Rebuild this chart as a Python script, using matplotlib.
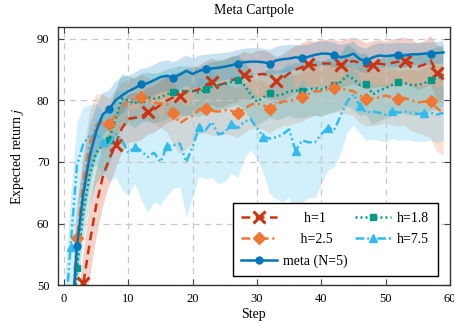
import matplotlib
matplotlib.use("Agg")
import matplotlib.pyplot as plt
import numpy as np

plt.rcParams['font.family'] = ['Liberation Serif', 'DejaVu Serif']
plt.rcParams['mathtext.fontset'] = 'stix'

steps = list(range(0, 60))

meta = [38, 40, 56.3, 65, 71, 75, 77.7, 78.6, 80, 80.8, 81.5, 82, 82.6, 82.8, 83.3, 83.8, 84, 83.7, 84.2, 84.8,
        84.3, 84.8, 85.1, 85.2, 85.3, 85.5, 85.7, 86, 86.2, 86.3, 86.3, 86.2, 86, 86.5, 86.7, 86.8, 87, 86.9, 87.1, 87.4,
        87.6, 87.6, 87.4, 87.0, 87.2, 87.6, 86.7, 86.4, 87, 87.3, 87.2, 87.3, 87.4, 87.3, 87.5, 87.5, 87.6, 87.6, 87.7, 87.8]
meta_std = [6, 6, 6, 5, 5, 4, 3.5, 3, 3, 3, 2.5, 2.5, 2.5, 2.5, 2.5, 2.5, 2.5, 2.5, 2.5, 2.5,
            2.5, 2.5, 2.3, 2.3, 2.3, 2.2, 2.2, 2.2, 2.2, 2.2, 2.2, 2.2, 2.2, 2.2, 2.2, 2.2, 2.0, 2.0, 2.0, 2.0,
            2.0, 2.0, 2.0, 2.0, 2.0, 2.0, 2.0, 2.0, 2.0, 2.0, 2.0, 2.0, 2.0, 2.0, 1.8, 1.8, 1.8, 1.8, 1.8, 1.8]

h1 = [30, 35, 40, 50.3, 57, 63, 67.5, 70.5, 72.7, 75.5, 77, 77.2, 77.3, 78.2, 78.5, 79.3, 80, 80.5, 80.8, 81.3,
      81.5, 81.8, 82.5, 83, 82.5, 82.8, 83.3, 83.5, 84.1, 83.8, 84.2, 84.3, 84.0, 83.2, 83.6, 84.4, 85, 85.4, 86, 85.7,
      86, 86, 86, 85.8, 86.2, 86.4, 86.1, 85.5, 85.8, 86.0, 85.8, 86.1, 86.3, 86.4, 86.1, 85.5, 85.8, 86.5, 84.5, 84.0]
h1_std = [5, 5, 5, 5, 6, 5.5, 5, 4.5, 4, 4, 4, 4, 3.8, 3.8, 3.8, 3.8, 3.8, 3.8, 3.8, 3.8,
          3.8, 3.8, 3.8, 3.8, 3.8, 3.8, 3.8, 3.8, 3.8, 3.8, 3.8, 3.8, 3.8, 3.8, 3.8, 3.8, 3.8, 3.8, 3.8, 3.8,
          3.8, 3.8, 3.8, 3.8, 3.8, 3.8, 3.8, 3.8, 3.8, 3.8, 3.8, 3.8, 3.8, 3.8, 3.8, 3.8, 3.8, 4.0, 4.5, 4.5]

h18 = [30, 40, 52.8, 62, 68, 71.5, 72.8, 73.6, 77, 80.3, 80, 79.5, 80.3, 80.5, 80.3, 80.5, 81, 81.3, 81.6, 81.5,
       81.5, 81.3, 81.8, 82.2, 82.5, 82.6, 83, 83.3, 82.5, 81, 79.8, 80.5, 81.2, 80.8, 81, 81.5, 81.6, 81.6, 81.8, 82,
       81.8, 82.2, 82.5, 83, 84, 83.5, 82.5, 82.6, 81, 81.6, 82, 82.5, 83, 82.8, 82.5, 82.5, 82.8, 83.3, 83.6, 84]
h18_std = [5, 5, 5, 5, 5, 5, 5, 4.5, 4.5, 4, 4, 4, 4, 4, 4, 4, 4, 4, 4, 4,
           4, 4, 4, 4, 4, 4, 4, 4, 4, 4, 4, 4, 4, 4, 4, 4, 4.5, 4.5, 4.5, 4.5,
           4.5, 4.5, 4.5, 4.5, 5, 5, 5, 5, 5, 5, 5, 5, 5, 5, 5, 5, 5, 5, 5, 5]

h25 = [30, 40, 57.6, 67, 73, 76, 76.5, 76.2, 77.5, 79, 79.8, 80.3, 80.6, 80.2, 79.6, 79.5, 79.4, 77.9, 76.3, 77,
       77.5, 78.5, 78.6, 78.3, 78.2, 78.4, 78.3, 77.9, 78.6, 79.3, 79.5, 79.2, 78.6, 79.3, 79.8, 79.9, 80.2, 80.5, 81, 81.5,
       81.5, 81.8, 82.1, 82, 81.7, 81.5, 80.8, 80.2, 80.3, 80.5, 80.8, 80.5, 80.3, 80.4, 80.0, 79.7, 79.8, 79.9, 78.7, 78]
h25_std = [4, 4, 4, 4.5, 5, 5, 4.5, 4, 4, 3.8, 3.5, 3.5, 3.5, 3.5, 3.5, 4, 4.5, 5, 5, 5,
           4.5, 4, 4, 4, 4, 4, 4, 4, 4, 4, 4, 4, 4, 4, 4, 4, 4, 4, 4, 4,
           4, 4, 4, 4, 4, 4, 4.5, 4.5, 4.5, 4.5, 4.5, 4.5, 4.5, 4.5, 5, 5, 5.5, 6, 7, 7]

h75 = [42, 56.2, 69.5, 73, 74.3, 74.5, 73.2, 72.8, 74.6, 73.5, 71.5, 72.5, 71.8, 70.8, 71.5, 70, 72.6, 72.7, 73, 70,
       72.5, 75.7, 75.2, 76.5, 74.5, 74.8, 76.2, 75.5, 76.5, 77, 75.5, 74.1, 73.8, 74, 74.5, 75.3, 71.8, 73.5, 73.2, 73.2,
       74.5, 75.6, 75.2, 77.5, 79.8, 81, 79.1, 78, 78.2, 78, 77.7, 78.3, 78, 78.2, 78, 77.8, 77.9, 78, 77.7, 78]
h75_std = [8, 8, 7, 6, 5, 5, 5, 6, 7, 8, 7, 6, 8, 9, 8, 7, 8, 7, 7, 9,
           8, 8, 8, 9, 8, 8, 8, 8, 6, 5, 5, 6, 9, 10, 11, 11, 10, 10, 9, 9,
           8, 7, 6, 6, 5, 5, 4.5, 4.5, 4.5, 4.5, 4.5, 4.5, 4.5, 4.5, 4.5, 4.5, 4.5, 4.5, 4.5, 4.5]

x_ticks = [0, 10, 20, 30, 40, 50, 60]
y_ticks = [50, 60, 70, 80, 90]

fig = plt.figure(figsize=(4.54, 3.24), dpi=100)
ax = fig.add_axes([0.127, 0.120, 0.864, 0.798])

series = [
    ("h=1", h1, h1_std, "#CC3311", dict(ls=(0, (3.5, 2.2)), marker="x", ms=8, mew=2.2, markevery=(3, 5))),
    ("h=1.8", h18, h18_std, "#009988", dict(ls=(0, (0.8, 1.2)), marker="s", ms=5, mew=1, markevery=(2, 5))),
    ("h=2.5", h25, h25_std, "#EE7733", dict(ls=(0, (3.5, 1.5, 0.8, 1.5)), marker="D", ms=6, mew=1, markevery=(2, 5))),
    ("h=7.5", h75, h75_std, "#33BBEE", dict(ls=(0, (3.5, 1.2, 0.8, 1.2, 0.8, 1.2)), marker="^", ms=5.5, mew=1, markevery=(1, 5))),
    ("meta (N=5)", meta, meta_std, "#0077BB", dict(ls="-", marker="o", ms=5, mew=1, markevery=(2, 5))),
]

handles = {}
for label, vals, sd, color, st in series:
    v = np.array(vals)
    s = np.array(sd)
    ax.fill_between(steps, v - s, v + s, color=color, alpha=0.22, lw=0)
for label, vals, sd, color, st in series:
    ln, = ax.plot(steps, vals, color=color, lw=1.8, label=label, **st)
    handles[label] = ln

ax.set_xlim(-1, 60)
ax.set_ylim(50, 92)
ax.set_xticks(x_ticks)
ax.set_yticks(y_ticks)
ax.grid(True, ls=(0, (5, 4)), color="#c8c8c8", lw=0.9)
ax.tick_params(direction="in", top=True, right=True, labelsize=9, length=4, color="#444444", pad=6)
for sp in ax.spines.values():
    sp.set_color("#333333")
    sp.set_linewidth(1.0)

ax.set_title("Meta Cartpole", fontsize=10, pad=9)
ax.set_xlabel("Step", fontsize=10, labelpad=2)
ax.set_ylabel("Expected return $j$", fontsize=10, labelpad=8)

order = ["h=1", "h=2.5", "meta (N=5)", "h=1.8", "h=7.5"]
labels_disp = ["      h=1", "     h=2.5", "meta (N=5)", "h=1.8", "h=7.5"]
leg = ax.legend([handles[k] for k in order], labels_disp, ncol=2, loc="lower right",
                bbox_to_anchor=(0.969, 0.035), fontsize=10, frameon=True, fancybox=False,
                edgecolor="black", framealpha=1, handlelength=2.6, columnspacing=0.5,
                handletextpad=0.45, borderpad=0.6, labelspacing=0.6, borderaxespad=0)
leg.get_frame().set_linewidth(1.0)

fig.savefig("out.png", dpi=100)
